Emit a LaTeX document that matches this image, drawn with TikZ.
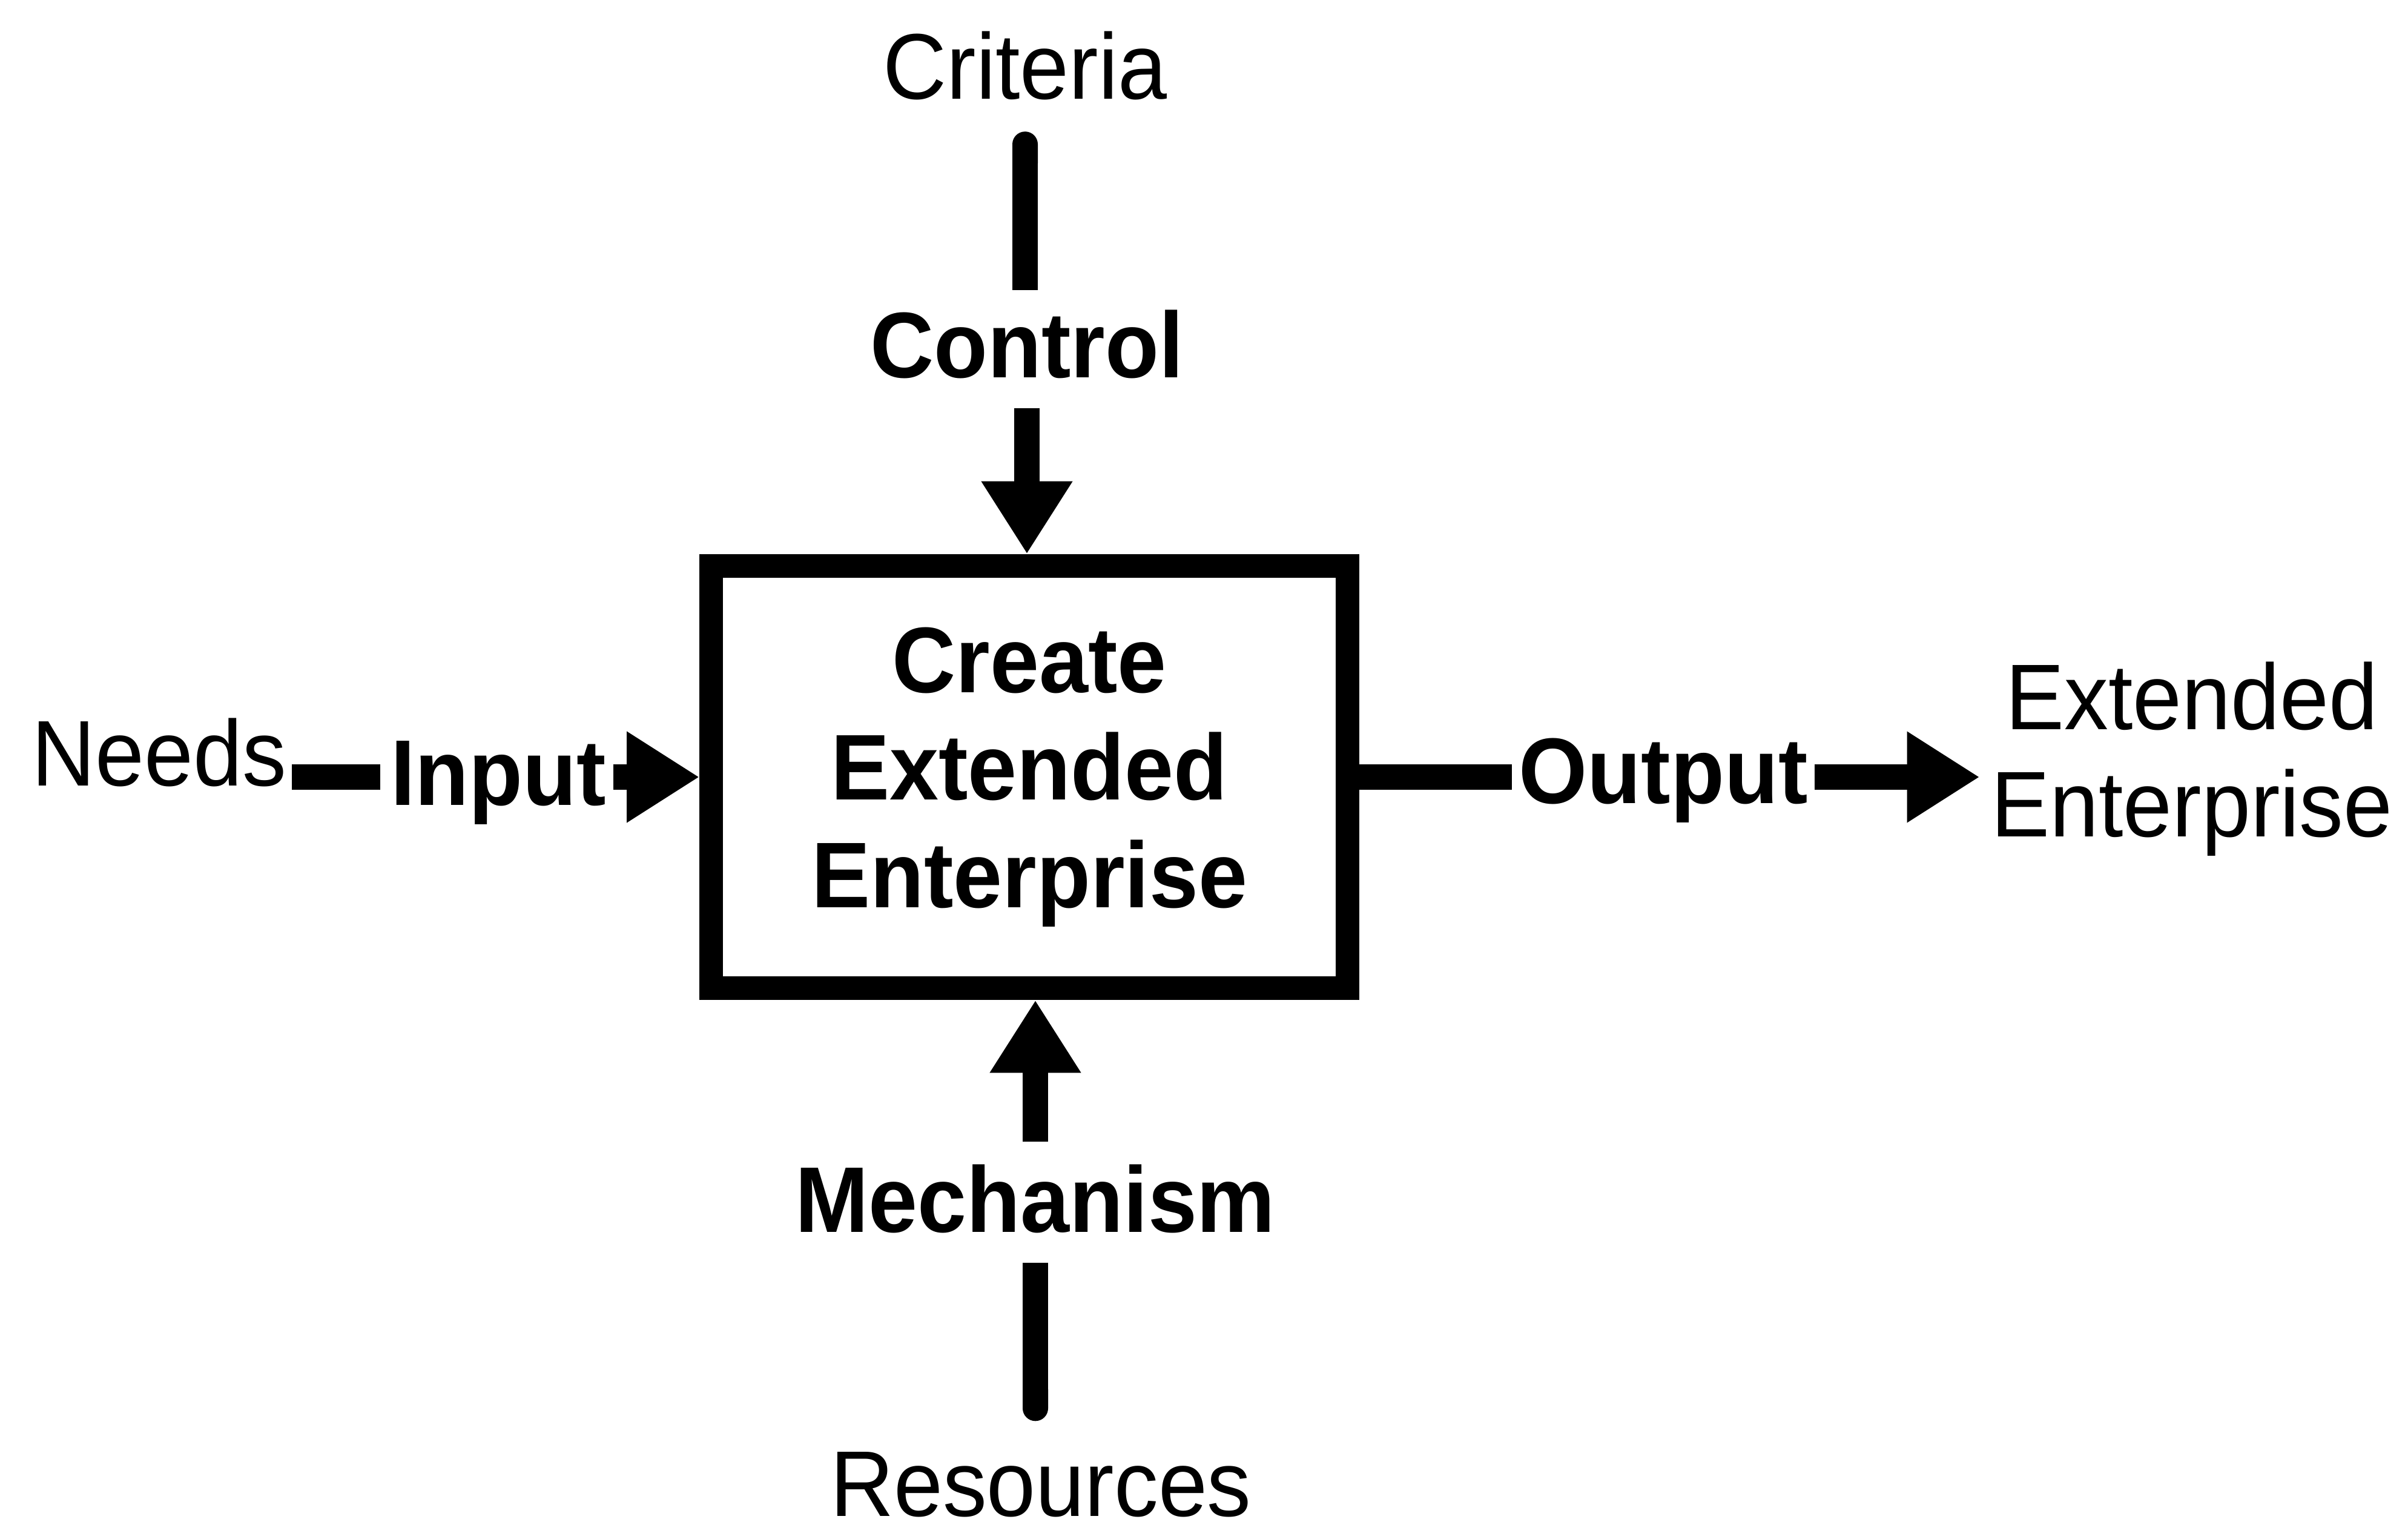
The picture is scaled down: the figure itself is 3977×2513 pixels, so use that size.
\documentclass[tikz,border=0pt]{standalone}
\usepackage{fontspec}
\setmainfont{Liberation Sans}[FakeStretch=0.945]
\usetikzlibrary{arrows.meta}
\begin{document}
\begin{tikzpicture}[x=0.01cm, y=-0.01cm]
\tikzset{
  lbl/.style={inner sep=0pt, font=\fontsize{43.8pt}{50.4pt}\selectfont},
  blbl/.style={inner sep=0pt, font=\fontsize{43.8pt}{50.4pt}\selectfont\bfseries},
  wire/.style={line width=0.42cm},
  flow/.style={wire, -{Triangle[length=1.2cm, width=1.42cm]}},
  process/.style={draw, line width=0.39cm, minimum width=10.5cm, minimum height=6.97cm,
    inner sep=0pt, align=center, font=\fontsize{43.8pt}{50.4pt}\selectfont\bfseries}
}
% canvas
\fill[white] (0,0) rectangle (3977,2513);
\useasboundingbox (0,0) rectangle (3977,2513);

% activity box
\node[process] (box) at (1700,1283) {Create\\Extended\\Enterprise};

% labels
\node[lbl, anchor=base] (criteria) at (1693,164) {Criteria};
\node[blbl, anchor=base] (control) at (1696,624) {Control};
\node[lbl, anchor=base west] (needs) at (52,1298) {Needs};
\node[blbl, anchor=base] (input) at (823,1330) {Input};
\node[blbl, anchor=base] (output) at (2747,1327) {Output};
\node[lbl, anchor=north, align=center] (ext) at (3620,1092) {Extended\\Enterprise};
\node[blbl, anchor=base] (mechanism) at (1710,2034) {Mechanism};
\node[lbl, anchor=base] (resources) at (1719,2503) {Resources};

% control
\draw[wire, {Round Cap[]}-, shorten <=0.51cm, shorten >=0.33cm]
  (criteria.south) -- (criteria.south |- control.north);
\draw[flow, shorten <=0.48cm] (control.south) -- (control.south |- box.north);

% input
\draw[wire, shorten <=0.08cm, shorten >=0.16cm] (needs.east |- box.west) -- (input.west |- box.west);
\draw[flow, shorten <=0.11cm] (input.east |- box.west) -- (box.west);

% output
\draw[wire, shorten >=0.11cm] (box.east) -- (output.west |- box.east);
\draw[flow, shorten <=0.11cm, shorten >=0.18cm] (output.east |- box.east) -- (ext.west |- box.east);

% mechanism
\draw[flow, shorten <=0.37cm] (mechanism.north) -- (mechanism.north |- box.south);
\draw[wire, -{Round Cap[]}, shorten <=0.49cm, shorten >=0.50cm]
  (mechanism.south) -- (mechanism.south |- resources.north);
\end{tikzpicture}
\end{document}
